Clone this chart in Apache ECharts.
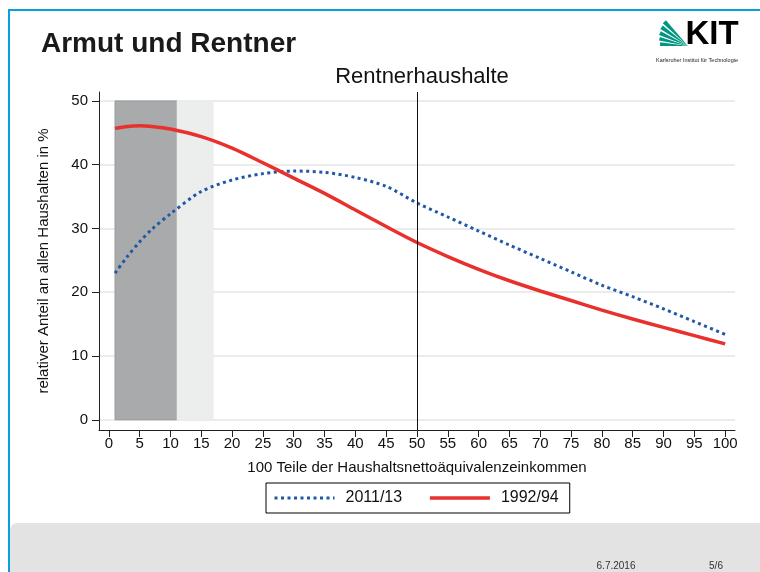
<!DOCTYPE html>
<html>
<head>
<meta charset="utf-8">
<script src="https://cdn.jsdelivr.net/npm/echarts@6/dist/echarts.min.js"></script>
<style>
  html, body { margin: 0; padding: 0; background: #fff; }
  #chart { width: 760px; height: 572px; }
</style>
</head>
<body>
<div id="chart"></div>
<script>
  // Perzentile der Haushaltsnettoäquivalenzeinkommen
  var percentiles = [1, 3, 5, 7, 10, 15, 20, 25, 30, 35, 40, 45, 50, 55, 60, 65, 70, 75, 80, 85, 90, 95, 100];
  // relativer Anteil (%) 2011/13
  var share2011 = [23.0, 25.6, 27.9, 29.9, 32.3, 35.8, 37.6, 38.6, 39.0, 38.8, 38.0, 36.6, 34.0, 31.8, 29.6, 27.4, 25.3, 23.2, 21.1, 19.3, 17.4, 15.4, 13.4];
  // relativer Anteil (%) 1992/94
  var share1992 = [45.7, 46.0, 46.1, 46.0, 45.6, 44.4, 42.6, 40.3, 37.9, 35.5, 32.9, 30.3, 27.8, 25.6, 23.6, 21.8, 20.2, 18.7, 17.2, 15.8, 14.5, 13.2, 11.9];
  var xTicks = [0, 5, 10, 15, 20, 25, 30, 35, 40, 45, 50, 55, 60, 65, 70, 75, 80, 85, 90, 95, 100];
  var yTicks = [0, 10, 20, 30, 40, 50];
  var darkBand = [1, 11];   // Armutsbereich
  var lightBand = [11, 17];
  var markerX = 50;         // Median

  var chart = echarts.init(document.getElementById("chart"));
  var font = "Liberation Sans, Arial, sans-serif";

  // KIT Fächer
  var fan = [];
  for (var k = 0; k < 5; k++) {
    var a0 = (k * 10.5) * Math.PI / 180, a1 = (k * 10.5 + 7.5) * Math.PI / 180;
    var len = 28 + k * 1.5;
    fan.push({
      type: "polygon",
      shape: { points: [[688, 46], [688 - len * Math.cos(a0), 46 - len * Math.sin(a0)], [688 - len * Math.cos(a1), 46 - len * Math.sin(a1)]] },
      style: { fill: "#009682" }
    });
  }

  chart.setOption({
    backgroundColor: "#fff",
    animation: false,
    title: [
      {
        text: "Armut und Rentner",
        left: 36, top: 25,
        textStyle: { fontFamily: font, fontSize: 28, fontWeight: "bold", color: "#1a1a1a" }
      },
      {
        text: "Rentnerhaushalte",
        left: 417, top: 61, textAlign: "center",
        textStyle: { fontFamily: font, fontSize: 22, fontWeight: "normal", color: "#111" }
      }
    ],
    graphic: [
      { type: "rect", shape: { x: 10, y: 523, width: 760, height: 60, r: [7, 0, 0, 0] }, style: { fill: "#e3e3e3" } },
      { type: "rect", shape: { x: 8, y: 9, width: 752, height: 2 }, style: { fill: "#0a9edc" } },
      { type: "rect", shape: { x: 8, y: 9, width: 2, height: 563 }, style: { fill: "#0a9edc" } },
      { type: "text", x: 616, y: 566, style: { text: "6.7.2016", fontFamily: font, fontSize: 10, fill: "#333", align: "center", verticalAlign: "middle" } },
      { type: "text", x: 716, y: 566, style: { text: "5/6", fontFamily: font, fontSize: 10, fill: "#333", align: "center", verticalAlign: "middle" } },
      { type: "text", x: 712, y: 35, style: { text: "KIT", fontFamily: font, fontSize: 33, fontWeight: "bold", fill: "#000", align: "center", verticalAlign: "middle" } },
      { type: "text", x: 697, y: 60, style: { text: "Karlsruher Institut für Technologie", fontFamily: font, fontSize: 5.5, fill: "#222", align: "center", verticalAlign: "middle" } }
    ].concat(fan),
    legend: {
      left: 266, top: 483,
      orient: "horizontal",
      borderColor: "#000", borderWidth: 1,
      padding: [7, 11, 7, 7],
      itemWidth: 60, itemHeight: 10, itemGap: 26,
      selectedMode: false,
      itemStyle: { opacity: 0 },
      lineStyle: { width: "inherit", type: "inherit" },
      textStyle: { fontFamily: font, fontSize: 16, color: "#111", padding: [0, 0, 0, 6] },
      data: ["2011/13", "1992/94"]
    },
    grid: { left: 99, right: 25, top: 92, bottom: 142, containLabel: false },
    xAxis: {
      type: "value",
      min: -1.6, max: 101.6,
      name: "100 Teile der Haushaltsnettoäquivalenzeinkommen",
      nameLocation: "middle", nameGap: 30,
      nameTextStyle: { fontFamily: font, fontSize: 15, color: "#111" },
      axisLine: { show: true, onZero: false, lineStyle: { color: "#222", width: 1 } },
      axisTick: { show: true, customValues: xTicks, length: 7, lineStyle: { color: "#222" } },
      axisLabel: { customValues: xTicks, margin: 6, fontFamily: font, fontSize: 15, color: "#111" },
      splitLine: { show: false }
    },
    yAxis: {
      type: "value",
      min: -1.6, max: 51.4,
      name: "relativer Anteil an allen Haushalten in %",
      nameLocation: "middle", nameGap: 48, nameRotate: 90,
      nameTextStyle: { fontFamily: font, fontSize: 15, color: "#111" },
      axisLine: { show: true, onZero: false, lineStyle: { color: "#222", width: 1 } },
      axisTick: { show: true, customValues: yTicks, length: 7, lineStyle: { color: "#222" } },
      axisLabel: { customValues: yTicks, margin: 11, fontFamily: font, fontSize: 15, color: "#111" },
      splitLine: { show: true, lineStyle: { color: "#e4e4e4", width: 1.5 } }
    },
    series: [
      {
        name: "2011/13",
        type: "line",
        smooth: 0.3,
        symbol: "none",
        z: 3,
        lineStyle: { color: "#1f58a8", width: 3, type: [3, 3.5], cap: "butt" },
        itemStyle: { color: "#1f58a8" },
        data: percentiles.map(function (x, i) { return [x, share2011[i]]; }),
        markArea: {
          silent: true,
          data: [
            [{ xAxis: darkBand[0], yAxis: 0, itemStyle: { color: "#a8aaab", borderColor: "#979999", borderWidth: 1 } }, { xAxis: darkBand[1], yAxis: 50 }],
            [{ xAxis: lightBand[0], yAxis: 0, itemStyle: { color: "#eceded" } }, { xAxis: lightBand[1], yAxis: 50 }]
          ]
        },
        markLine: {
          silent: true,
          symbol: "none",
          label: { show: false },
          lineStyle: { color: "#111", width: 1, type: "solid" },
          data: [{ xAxis: markerX }]
        }
      },
      {
        name: "1992/94",
        type: "line",
        smooth: 0.3,
        symbol: "none",
        z: 4,
        lineStyle: { color: "#e8312d", width: 3.5 },
        itemStyle: { color: "#e8312d" },
        data: percentiles.map(function (x, i) { return [x, share1992[i]]; })
      }
    ]
  });
</script>
</body>
</html>
